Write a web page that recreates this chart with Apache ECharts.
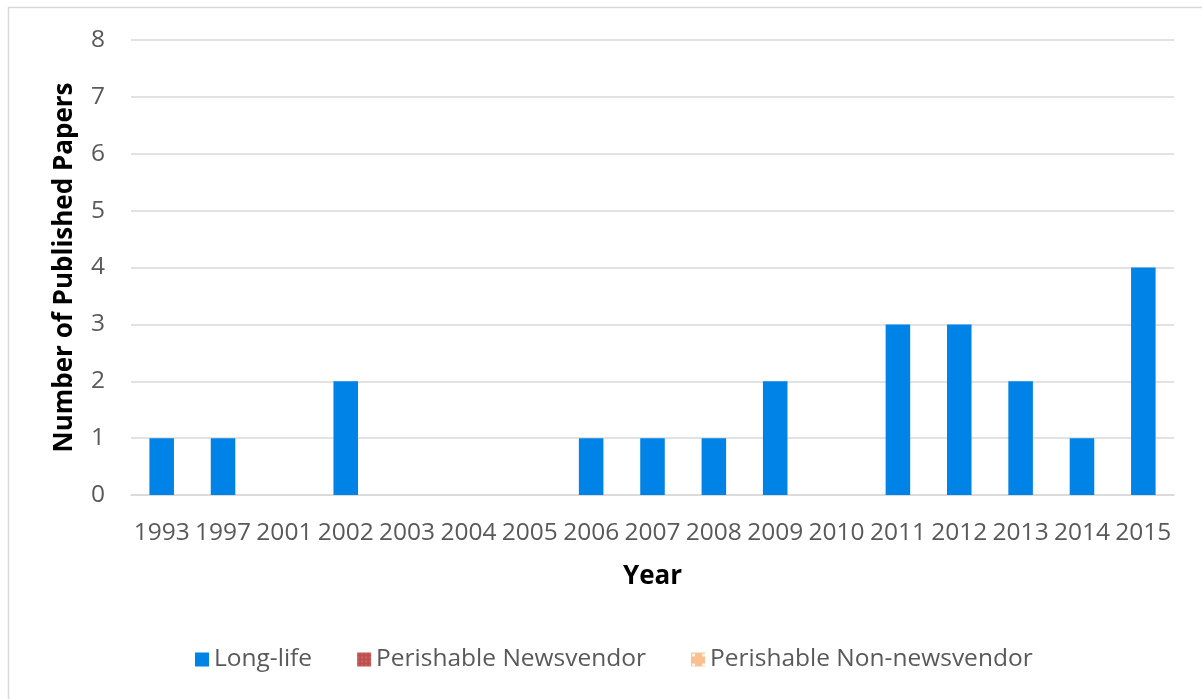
<!DOCTYPE html>
<html>
<head>
<meta charset="utf-8">
<script src="https://cdn.jsdelivr.net/npm/echarts@6/dist/echarts.min.js"></script>
<style>
html,body{margin:0;padding:0;background:#fff;}
#chart{width:1202px;height:699px;}
</style>
</head>
<body>
<div id="chart"></div>
<script>
const years = ['1993','1997','2001','2002','2003','2004','2005','2006','2007','2008','2009','2010','2011','2012','2013','2014','2015'];
const longLife = [1,1,0,2,0,0,0,1,1,1,2,0,3,3,2,1,4];
const perishableNewsvendor = [0,0,0,0,0,0,0,0,0,0,0,0,0,0,0,0,0];
const perishableNonNewsvendor = [0,0,0,0,0,0,0,0,0,0,0,0,0,0,0,0,0];
const seriesNames = ['Long-life','Perishable Newsvendor','Perishable Non-newsvendor'];

const FONT = 'Open Sans';
const chart = echarts.init(document.getElementById('chart'));
chart.setOption({
  animation: false,
  textStyle: {fontFamily: FONT},
  graphic: [{
    type: 'rect', left: 6, top: 5,
    shape: {width: 1230, height: 740},
    style: {fill: 'none', stroke: '#d9d9d9', lineWidth: 1.5},
    silent: true
  }],
  legend: {
    bottom: 22, left: 190,
    itemWidth: 14, itemHeight: 14, itemGap: 45,
    icon: 'rect',
    textStyle: {fontFamily: FONT, fontSize: 24.5, color: '#595959'},
    data: seriesNames
  },
  grid: {left: 131, right: 28, top: 40, bottom: 204},
  xAxis: {
    type: 'category', data: years,
    name: 'Year', nameLocation: 'middle', nameGap: 69,
    nameTextStyle: {fontFamily: FONT, fontSize: 26, fontWeight: 'bold', color: '#000'},
    axisLine: {lineStyle: {color: '#d9d9d9', width: 1.5}},
    axisTick: {show: false},
    axisLabel: {fontFamily: FONT, fontSize: 24.5, color: '#595959', margin: 26, interval: 0}
  },
  yAxis: {
    type: 'value', min: 0, max: 8, interval: 1,
    name: 'Number of Published Papers', nameLocation: 'middle', nameGap: 53,
    nameTextStyle: {fontFamily: FONT, fontSize: 26, fontWeight: 'bold', color: '#000'},
    axisLine: {show: false}, axisTick: {show: false},
    axisLabel: {fontFamily: FONT, fontSize: 24.5, color: '#595959', margin: 26},
    splitLine: {lineStyle: {color: '#d9d9d9', width: 1.5}}
  },
  series: [
    {name: seriesNames[0], type: 'bar', stack: 'a', barWidth: '40%', data: longLife, itemStyle: {color: '#0083e6'}},
    {name: seriesNames[1], type: 'bar', stack: 'a', barWidth: '40%', data: perishableNewsvendor,
     itemStyle: {color: '#c0504d', decal: {symbol: 'rect', color: 'rgba(255,255,255,0.55)', symbolSize: 0.5, dashArrayX: [2, 2], dashArrayY: [2, 2]}}},
    {name: seriesNames[2], type: 'bar', stack: 'a', barWidth: '40%', data: perishableNonNewsvendor,
     itemStyle: {color: '#fac090', decal: {symbol: 'rect', color: 'rgba(255,255,255,0.8)', symbolSize: 0.6, dashArrayX: [5, 5], dashArrayY: [5, 5]}}}
  ]
});
</script>
</body>
</html>
